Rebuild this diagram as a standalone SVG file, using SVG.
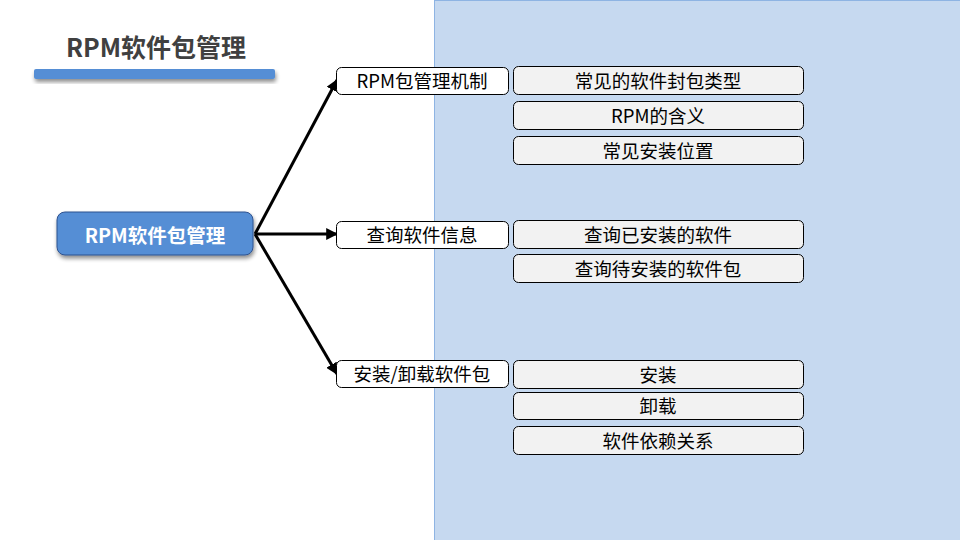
<svg xmlns="http://www.w3.org/2000/svg" width="960" height="540" viewBox="0 0 960 540">
<defs>
<style>
.t{font-family:"Noto Sans CJK SC","Liberation Sans",sans-serif;text-anchor:middle;dominant-baseline:central;fill:#000}
.l1 rect{fill:#fff;stroke:#000;stroke-width:1}
.l2 rect{fill:#F2F2F2;stroke:#000;stroke-width:1}
.l1 text,.l2 text{font-size:18.5px}
.c{stroke:#000;stroke-width:3;fill:none;marker-end:url(#ah)}
</style>
<marker id="ah" viewBox="0 0 10 10" refX="9" refY="5" markerWidth="4" markerHeight="4" orient="auto" markerUnits="strokeWidth">
<path d="M0,0 L10,5 L0,10 z" fill="#000"/>
</marker>
<filter id="sh" x="-10%" y="-30%" width="120%" height="180%">
<feGaussianBlur in="SourceAlpha" stdDeviation="2"/>
<feOffset dx="1" dy="3" result="o"/>
<feComponentTransfer><feFuncA type="linear" slope="0.45"/></feComponentTransfer>
<feMerge><feMergeNode/><feMergeNode in="SourceGraphic"/></feMerge>
</filter>
</defs>
<rect x="0" y="0" width="960" height="540" fill="#fff"/>
<rect x="434.5" y="0.5" width="530" height="545" fill="#C6D9F0" stroke="#8EB4E3" stroke-width="1"/>
<g id="title">
<text class="t" x="156" y="46" style="font-size:25px;font-weight:bold;fill:#404040">RPM软件包管理</text>
<rect x="34" y="69" width="241" height="10" rx="2" fill="#558ED5" filter="url(#sh)"/>
</g>
<g id="connectors">
<path class="c" d="M255,234 L337,80"/>
<path class="c" d="M255,234 L337,234"/>
<path class="c" d="M255,234 L337,374"/>
</g>
<g id="root">
<rect x="57" y="212" width="196" height="43" rx="8" fill="#558ED5" stroke="#2F528F" stroke-width="1" filter="url(#sh)"/>
<text class="t" x="155" y="234" style="font-size:19.5px;font-weight:bold;fill:#fff">RPM软件包管理</text>
</g>
<g id="n1" class="l1"><rect x="336.5" y="67.5" width="172" height="27" rx="5"/><text class="t" x="422" y="80">RPM包管理机制</text></g>
<g id="n2" class="l1"><rect x="336.5" y="221.5" width="172" height="27" rx="5"/><text class="t" x="422" y="234">查询软件信息</text></g>
<g id="n3" class="l1"><rect x="336.5" y="360.5" width="172" height="27" rx="5"/><text class="t" x="422" y="373">安装/卸载软件包</text></g>
<g id="n11" class="l2"><rect x="513.5" y="66.5" width="290" height="28" rx="5"/><text class="t" x="658" y="80">常见的软件封包类型</text></g>
<g id="n12" class="l2"><rect x="513.5" y="101.5" width="290" height="28" rx="5"/><text class="t" x="658" y="115">RPM的含义</text></g>
<g id="n13" class="l2"><rect x="513.5" y="136.5" width="290" height="28" rx="5"/><text class="t" x="658" y="150">常见安装位置</text></g>
<g id="n21" class="l2"><rect x="513.5" y="220.5" width="290" height="28" rx="5"/><text class="t" x="658" y="234">查询已安装的软件</text></g>
<g id="n22" class="l2"><rect x="513.5" y="254.5" width="290" height="28" rx="5"/><text class="t" x="658" y="268">查询待安装的软件包</text></g>
<g id="n31" class="l2"><rect x="513.5" y="360.5" width="290" height="28" rx="5"/><text class="t" x="658" y="374">安装</text></g>
<g id="n32" class="l2"><rect x="513.5" y="392.5" width="290" height="27" rx="5"/><text class="t" x="658" y="405">卸载</text></g>
<g id="n33" class="l2"><rect x="513.5" y="426.5" width="290" height="28" rx="5"/><text class="t" x="658" y="440">软件依赖关系</text></g>
</svg>
